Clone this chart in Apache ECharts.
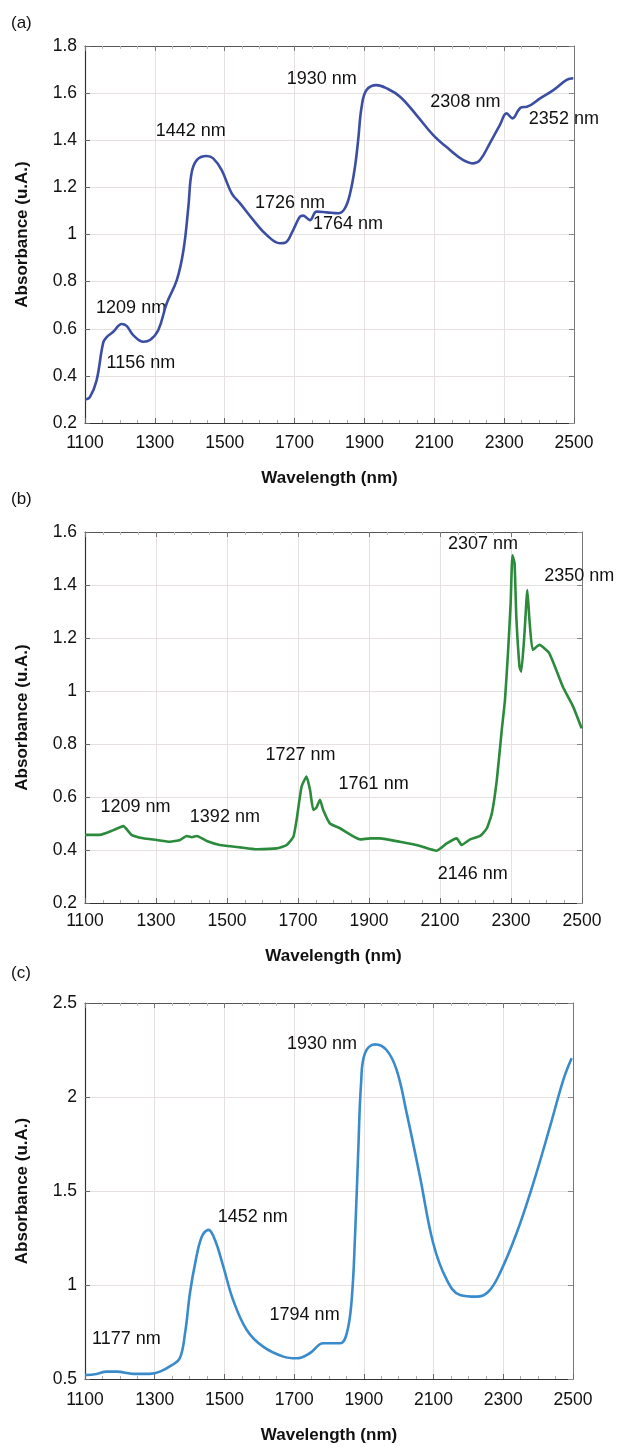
<!DOCTYPE html>
<html>
<head>
<meta charset="utf-8">
<script src="https://cdn.jsdelivr.net/npm/echarts@6/dist/echarts.min.js"></script>
<style>
  html, body { margin: 0; padding: 0; background: #fff; }
  #main { width: 618px; height: 1446px; }
</style>
</head>
<body>
<div id="main"></div>
<script>
// spectrum (a)
var aNm = [1100, 1114, 1133, 1152, 1162, 1181, 1205, 1219, 1238, 1267, 1286, 1310, 1334, 1363, 1382, 1396, 1405, 1420, 1448, 1467,
  1491, 1520, 1544, 1582, 1620, 1658, 1673, 1696, 1715, 1725, 1735, 1744, 1763, 1792, 1825, 1844, 1859, 1873, 1882, 1892,
  1906, 1935, 1964, 2002, 2049, 2097, 2145, 2183, 2212, 2231, 2259, 2288, 2307, 2324, 2341, 2350, 2365, 2403, 2441, 2479, 2498];
var aAbs = [0.30, 0.31, 0.38, 0.54, 0.564, 0.587, 0.62, 0.612, 0.573, 0.545, 0.552, 0.595, 0.708, 0.807, 0.934, 1.118, 1.26, 1.316, 1.333, 1.323,
  1.274, 1.175, 1.132, 1.061, 0.998, 0.963, 0.965, 1.019, 1.075, 1.08, 1.07, 1.061, 1.097, 1.094, 1.09, 1.111, 1.175, 1.288, 1.40, 1.542,
  1.613, 1.634, 1.62, 1.585, 1.507, 1.422, 1.359, 1.316, 1.302, 1.316, 1.387, 1.465, 1.514, 1.493, 1.528, 1.54, 1.542, 1.578, 1.613, 1.656, 1.663];
// spectrum (b)
var bNm = [1100, 1142, 1180, 1208, 1231, 1264, 1302, 1339, 1368, 1386, 1401, 1415, 1443, 1480, 1537, 1584, 1640, 1668, 1687, 1696,
  1710, 1724, 1734, 1743, 1752, 1762, 1771, 1790, 1818, 1875, 1903, 1931, 1987, 2044, 2090, 2119, 2147, 2161, 2185, 2213,
  2232, 2246, 2260, 2274, 2283, 2292, 2299, 2304, 2310, 2315, 2324, 2329, 2338, 2346, 2352, 2361, 2380, 2408, 2446, 2475, 2499];
var bAbs = [0.457, 0.457, 0.475, 0.49, 0.457, 0.444, 0.438, 0.431, 0.438, 0.453, 0.448, 0.453, 0.434, 0.419, 0.41, 0.403, 0.406, 0.419, 0.45, 0.513,
  0.639, 0.677, 0.626, 0.551, 0.56, 0.589, 0.551, 0.5, 0.482, 0.44, 0.444, 0.444, 0.431, 0.415, 0.397, 0.425, 0.444, 0.419, 0.44, 0.453,
  0.482, 0.538, 0.664, 0.853, 0.966, 1.155, 1.331, 1.512, 1.482, 1.28, 1.092, 1.073, 1.218, 1.381, 1.268, 1.155, 1.174, 1.142, 1.016, 0.941, 0.859];
// spectrum (c)
var cNm = [1100, 1133, 1162, 1191, 1239, 1286, 1315, 1349, 1372, 1387, 1401, 1416, 1435, 1454, 1473, 1497, 1525, 1564, 1611, 1669,
  1707, 1745, 1784, 1832, 1851, 1865, 1875, 1884, 1892, 1903, 1932, 1965, 1994, 2023, 2061, 2099, 2138, 2176, 2224, 2257,
  2290, 2338, 2386, 2434, 2472, 2496];
var cAbs = [0.521, 0.527, 0.539, 0.539, 0.527, 0.527, 0.539, 0.574, 0.61, 0.743, 0.956, 1.115, 1.257, 1.293, 1.239, 1.097, 0.92, 0.761, 0.672, 0.619,
  0.61, 0.637, 0.69, 0.69, 0.743, 0.92, 1.275, 1.718, 2.073, 2.232, 2.28, 2.25, 2.144, 1.913, 1.576, 1.222, 1.027, 0.947, 0.938, 0.964,
  1.062, 1.275, 1.541, 1.842, 2.09, 2.206];

// peak labels: text centre position [nm, absorbance, text]
var aPeaks = [[1403, 1.44, '1442 nm'], [1778, 1.66, '1930 nm'], [1687, 1.134, '1726 nm'], [1853, 1.044, '1764 nm'],
  [2189, 1.561, '2308 nm'], [2471, 1.49, '2352 nm'], [1232, 0.687, '1209 nm'], [1260, 0.453, '1156 nm']];
var bPeaks = [[1242, 0.561, '1209 nm'], [1494, 0.523, '1392 nm'], [1707, 0.758, '1727 nm'], [1913, 0.648, '1761 nm'],
  [2192, 0.309, '2146 nm'], [2221, 1.554, '2307 nm'], [2492, 1.435, '2350 nm']];
var cPeaks = [[1219, 0.713, '1177 nm'], [1581, 1.363, '1452 nm'], [1730, 0.84, '1794 nm'], [1780, 2.282, '1930 nm']];

var xTicks = { min: 1100, max: 2500, interval: 200 };
var yRanges = [{ min: 0.2, max: 1.8, interval: 0.2 }, { min: 0.2, max: 1.6, interval: 0.2 }, { min: 0.5, max: 2.5, interval: 0.5 }];
var colors = ['#3c4ea3', '#2b8a3c', '#3a8bcb'];

var font = 'Liberation Sans, Arial, Helvetica, sans-serif';
var textColor = '#111';
var gridLine = { show: true, lineStyle: { color: '#e6e0e0', width: 1 } };

function pairs(xs, ys) {
  return xs.map(function (x, i) { return [x, ys[i]]; });
}

var xAxes = [], yAxes = [];
var labelMargins = [11, 9, 12];
var nameGaps = [47, 45, 48];
for (var i = 0; i < 3; i++) {
  xAxes.push({
    type: 'value', gridIndex: i, min: xTicks.min, max: xTicks.max, interval: xTicks.interval,
    name: 'Wavelength (nm)', nameLocation: 'middle', nameGap: nameGaps[i],
    nameTextStyle: { fontFamily: font, fontSize: 17, fontWeight: 'bold', color: textColor },
    axisLine: { show: true, onZero: false, lineStyle: { color: '#333', width: 1.2 } },
    axisTick: { show: true, inside: true, length: 5, lineStyle: { color: '#666' } },
    minorTick: { show: true, splitNumber: 4, length: 3, lineStyle: { color: '#aaa' } },
    axisLabel: {
      fontFamily: font, fontSize: 17.5, color: textColor, margin: labelMargins[i],
      formatter: function (v) { return String(v); }
    },
    splitLine: gridLine
  });
  yAxes.push({
    type: 'value', gridIndex: i, min: yRanges[i].min, max: yRanges[i].max, interval: yRanges[i].interval,
    name: 'Absorbance (u.A.)', nameLocation: 'middle', nameGap: 54,
    nameTextStyle: { fontFamily: font, fontSize: 17, fontWeight: 'bold', color: textColor },
    axisLine: { show: true, onZero: false, lineStyle: { color: '#333', width: 1.2 } },
    axisTick: { show: true, inside: true, length: 5, lineStyle: { color: '#666' } },
    axisLabel: { fontFamily: font, fontSize: 17.5, color: textColor, margin: 8 },
    splitLine: gridLine
  });
}
// mirrored frame on top and right
for (var j = 0; j < 3; j++) {
  xAxes.push({
    type: 'value', gridIndex: j, position: 'top', min: xTicks.min, max: xTicks.max, interval: xTicks.interval,
    axisLine: { show: true, onZero: false, lineStyle: { color: '#555', width: 1 } },
    axisTick: { show: true, inside: true, length: 5, lineStyle: { color: '#777' } },
    minorTick: { show: true, splitNumber: 4, length: 3, lineStyle: { color: '#bbb' } },
    axisLabel: { show: false }, splitLine: { show: false }
  });
  yAxes.push({
    type: 'value', gridIndex: j, position: 'right', min: yRanges[j].min, max: yRanges[j].max, interval: yRanges[j].interval,
    axisLine: { show: true, onZero: false, lineStyle: { color: '#777', width: 1 } },
    axisTick: { show: true, inside: true, length: 5, lineStyle: { color: '#888' } },
    axisLabel: { show: false }, splitLine: { show: false }
  });
}

function spectrum(idx, xs, ys, smooth) {
  return {
    type: 'line', xAxisIndex: idx, yAxisIndex: idx, data: pairs(xs, ys),
    showSymbol: false, smooth: smooth, silent: true,
    lineStyle: { color: colors[idx], width: 2.6 }
  };
}
function peakLabels(idx, peaks) {
  return {
    type: 'scatter', xAxisIndex: idx, yAxisIndex: idx, data: peaks, symbolSize: 0, silent: true, clip: false,
    label: {
      show: true, position: 'inside', fontFamily: font, fontSize: 18, color: textColor,
      textBorderWidth: 0, opacity: 1,
      formatter: function (p) { return p.value[2]; }
    }
  };
}

var myChart = echarts.init(document.getElementById('main'));
var option = {
  backgroundColor: '#fff',
  animation: false,
  grid: [
    { left: 85, top: 46, width: 489, height: 377 },
    { left: 85, top: 532, width: 497, height: 371 },
    { left: 85, top: 1003, width: 488, height: 376 }
  ],
  xAxis: xAxes,
  yAxis: yAxes,
  graphic: [
    { type: 'text', left: 11, top: 15, style: { text: '(a)', fontFamily: font, fontSize: 17, fill: textColor } },
    { type: 'text', left: 11, top: 491, style: { text: '(b)', fontFamily: font, fontSize: 17, fill: textColor } },
    { type: 'text', left: 11, top: 965, style: { text: '(c)', fontFamily: font, fontSize: 17, fill: textColor } }
  ],
  series: [
    spectrum(0, aNm, aAbs, 0.4),
    spectrum(1, bNm, bAbs, 0.15),
    spectrum(2, cNm, cAbs, 0.4),
    peakLabels(0, aPeaks),
    peakLabels(1, bPeaks),
    peakLabels(2, cPeaks)
  ]
};
myChart.setOption(option);
</script>
</body>
</html>
